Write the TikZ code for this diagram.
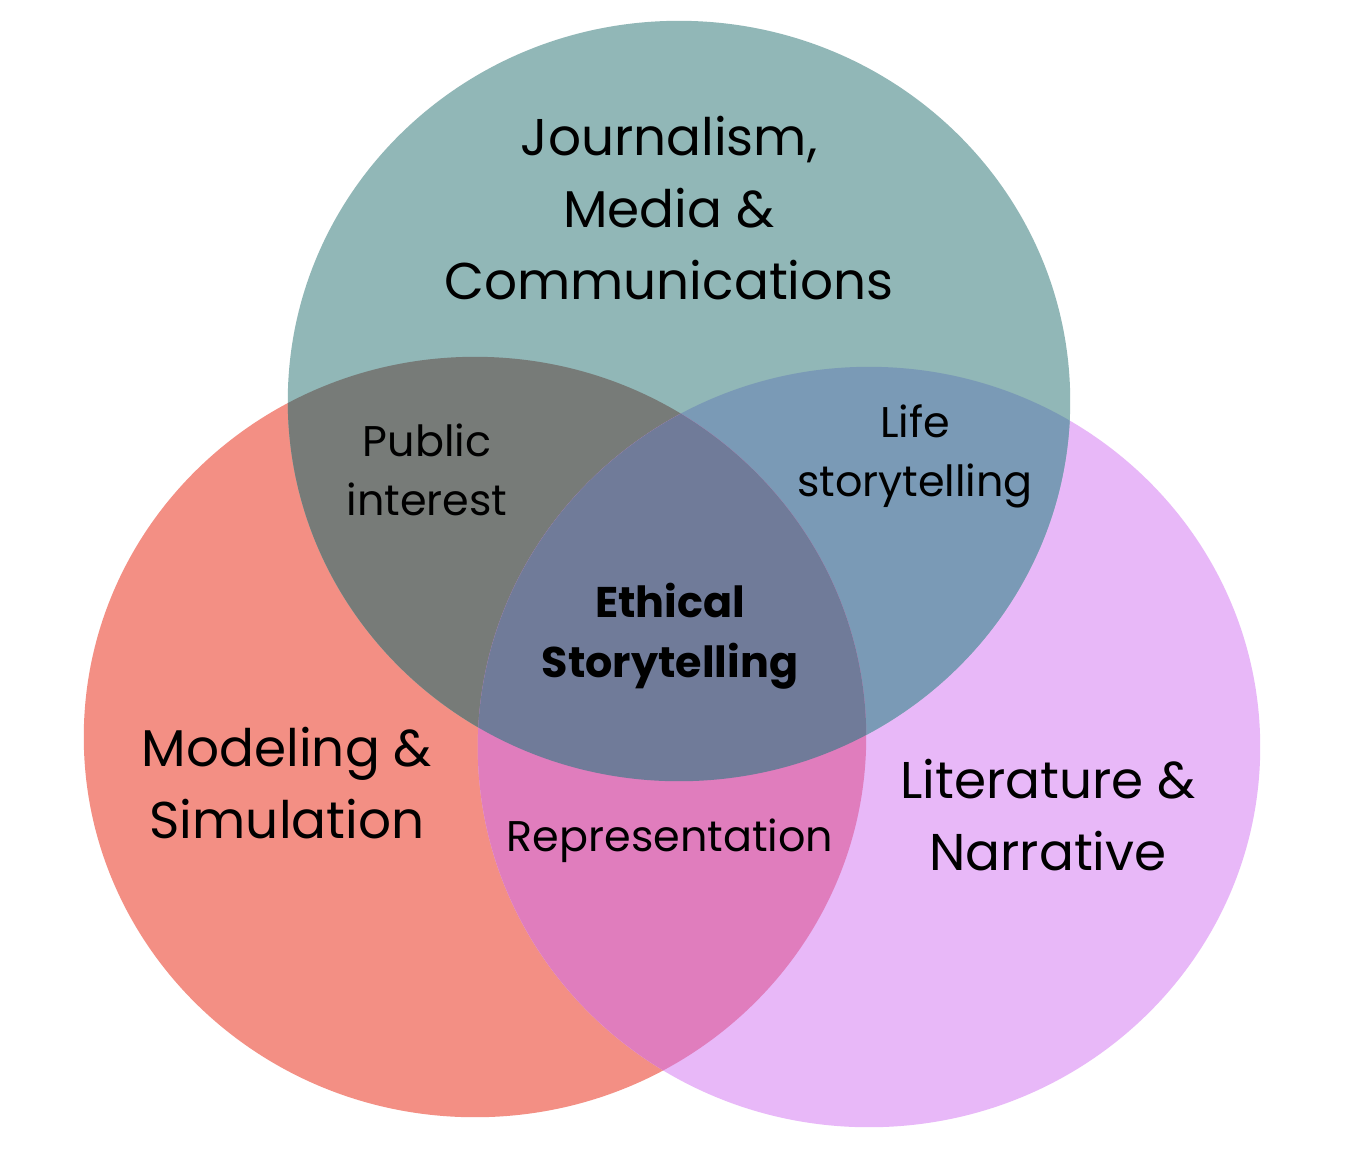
\documentclass[tikz,border=0pt]{standalone}
\usepackage{fontspec}
\setmainfont{Poppins}
\usetikzlibrary{positioning}
\definecolor{jmcteal}{HTML}{91B7B7}
\definecolor{modred}{HTML}{F38F84}
\definecolor{litviolet}{HTML}{E8B8F8}
\definecolor{pubgray}{HTML}{777B78}
\definecolor{lifeblue}{HTML}{7A9AB6}
\definecolor{reppink}{HTML}{E07DBD}
\definecolor{ethslate}{HTML}{707B99}
\tikzstyle{biglabel}   = [align=center, font=\fontsize{14.7}{20.4}\selectfont]
\tikzstyle{smalllabel} = [align=center, font=\fontsize{12.2}{16.8}\selectfont]
\tikzstyle{corelabel}  = [align=center, font=\bfseries\fontsize{12.2}{17}\selectfont]
\def\rx{3.91cm}
\def\ry{3.8cm}

\begin{document}
\begin{tikzpicture}[x=0.01cm, y=-0.01cm]

\fill[white] (0,0) rectangle (1348,1150);
\useasboundingbox (0,0) rectangle (1348,1150);

\coordinate (T) at (679,401);
\coordinate (L) at (475,737);
\coordinate (R) at (869,747);

% the three sets
\fill[modred]    (L) ellipse [x radius=\rx, y radius=\ry];
\fill[litviolet] (R) ellipse [x radius=\rx, y radius=\ry];
\fill[jmcteal]   (T) ellipse [x radius=\rx, y radius=\ry];

% pairwise overlaps
\begin{scope}
\clip (T) ellipse [x radius=\rx, y radius=\ry];
\fill[pubgray] (L) ellipse [x radius=\rx, y radius=\ry];
\fill[lifeblue] (R) ellipse [x radius=\rx, y radius=\ry];
\end{scope}
\begin{scope}
\clip (L) ellipse [x radius=\rx, y radius=\ry];
\fill[reppink] (R) ellipse [x radius=\rx, y radius=\ry];
\end{scope}

% centre
\begin{scope}
\clip (T) ellipse [x radius=\rx, y radius=\ry];
\clip (L) ellipse [x radius=\rx, y radius=\ry];
\fill[ethslate] (R) ellipse [x radius=\rx, y radius=\ry];
\end{scope}

\node[biglabel] (jmc) at (669,208) {Journalism,\\Media \&\\Communications};
\node[biglabel] (mod) at (287,783) {Modeling \&\\Simulation};
\node[biglabel] (lit) at (1048,815) {Literature \&\\Narrative};

\node[smalllabel] (pub) at (427,470) {Public\\interest};
\node[smalllabel] (life) at (915,456) {Life\\storytelling};
\node[smalllabel] (rep) at (670,841) {Representation};

\node[corelabel] (eth) at (670,636) {Ethical\\Storytelling};

\end{tikzpicture}
\end{document}
